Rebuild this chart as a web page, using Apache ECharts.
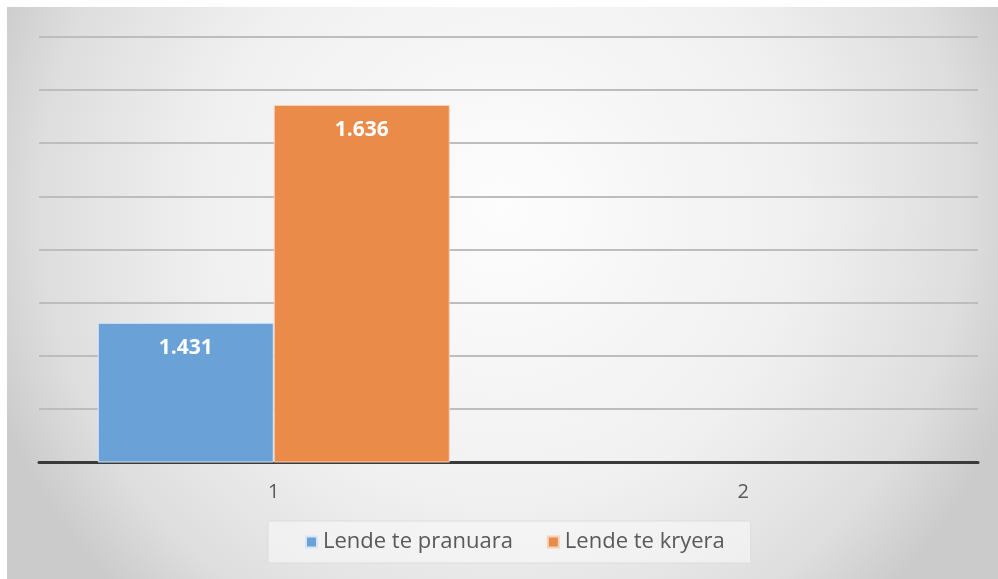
<!DOCTYPE html>
<html>
<head>
<meta charset="utf-8">
<script src="https://cdn.jsdelivr.net/npm/echarts@6/dist/echarts.min.js"></script>
<style>
  html, body { margin: 0; padding: 0; background: #ffffff; }
  #main { position: absolute; left: 7px; top: 7px; width: 991px; height: 572px; }
</style>
</head>
<body>
<div id="main"></div>
<script>
// data
const categories = ['1', '2'];
const seriesNames = ['Lende te pranuara', 'Lende te kryera'];
const pranuara = [1.431, null];
const kryera = [1.636, null];

const chart = echarts.init(document.getElementById('main'));

const labelStyle = {
  show: true,
  position: 'insideTop',
  distance: 15,
  color: '#ffffff',
  fontSize: 21,
  fontWeight: 'bold',
  fontFamily: 'Open Sans',
  formatter: p => p.value.toFixed(3)
};

var option = {
  backgroundColor: {
    type: 'radial', x: 0.5, y: 0.35, r: 0.95,
    colorStops: [
      { offset: 0, color: '#fdfdfd' },
      { offset: 0.55, color: '#f0f0f0' },
      { offset: 0.85, color: '#dedede' },
      { offset: 1, color: '#cbcbcb' }
    ]
  },
  animation: false,
  grid: { left: 32, right: 20, top: 30, bottom: 117 },
  legend: {
    left: 261,
    top: 514,
    itemWidth: 11,
    itemHeight: 11,
    itemGap: 34,
    padding: [10, 26, 10, 37],
    backgroundColor: 'rgba(248,248,248,0.6)',
    borderColor: '#dcdcdc',
    borderWidth: 1,
    icon: 'rect',
    textStyle: { color: '#595959', fontSize: 22, fontFamily: 'Open Sans', padding: [0, 0, 0, 1] },
    data: seriesNames
  },
  xAxis: {
    type: 'category',
    data: categories,
    axisTick: { show: false },
    axisLine: { lineStyle: { color: '#3a3a3a', width: 3 } },
    axisLabel: { color: '#595959', fontSize: 20, fontFamily: 'Open Sans', margin: 20 }
  },
  yAxis: {
    type: 'value',
    min: 1.3,
    max: 1.7,
    interval: 0.05,
    axisLabel: { show: false },
    axisLine: { show: false },
    axisTick: { show: false },
    splitLine: { lineStyle: { color: '#bdbdbd', width: 2 } }
  },
  series: [
    {
      name: seriesNames[0],
      type: 'bar',
      data: pranuara,
      barWidth: 176,
      barGap: '0%',
      itemStyle: { color: '#6aa2d8', borderColor: '#d8e6f3', borderWidth: 1 },
      label: labelStyle
    },
    {
      name: seriesNames[1],
      type: 'bar',
      data: kryera,
      barWidth: 176,
      itemStyle: { color: '#eb8b4a', borderColor: '#f3d3bc', borderWidth: 1 },
      label: labelStyle
    }
  ]
};

chart.setOption(option);
</script>
</body>
</html>
